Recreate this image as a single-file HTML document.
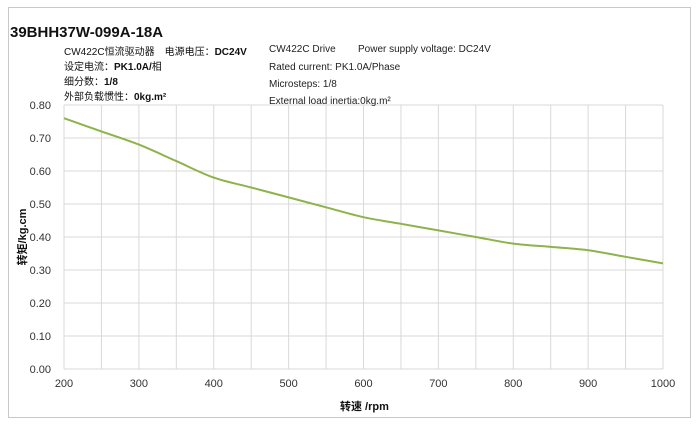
<!DOCTYPE html>
<html><head><meta charset="utf-8"><style>
body{margin:0;background:#fff;width:700px;height:426px;overflow:hidden;font-family:"Liberation Sans","Noto Sans CJK SC",sans-serif}
svg{position:absolute;left:0;top:0}
</style></head><body>
<svg width="700" height="426">
<rect x="8.5" y="7.5" width="682" height="410" fill="#fff" stroke="#c8c8c8"/>
<g id="grid"></g>
<path id="line" fill="none" stroke="#8db34a" stroke-width="2"/>
<g id="labels" font-size="11" fill="#333"></g>
<text x="10" y="37" font-size="15" font-weight="bold" fill="#111">39BHH37W-099A-18A</text>
<g font-size="10" fill="#111" font-family="'Liberation Sans','Noto Sans CJK SC',sans-serif">
<text x="64" y="55">CW422C恒流驱动器　电源电压：<tspan font-weight="bold">DC24V</tspan></text>
<text x="64" y="70">设定电流：<tspan font-weight="bold">PK1.0A/</tspan>相</text>
<text x="64" y="85">细分数：<tspan font-weight="bold">1/8</tspan></text>
<text x="64" y="100">外部负载惯性：<tspan font-weight="bold">0kg.m²</tspan></text>
</g>
<g font-size="10" fill="#222">
<text x="269" y="52">CW422C Drive</text><text x="358" y="52">Power supply voltage: DC24V</text>
<text x="269" y="70">Rated current: PK1.0A/Phase</text>
<text x="269" y="87">Microsteps: 1/8</text>
<text x="269" y="104">External load inertia:0kg.m²</text>
</g>
<text x="340" y="410" font-size="11" font-weight="bold" fill="#111">转速 /rpm</text>
<text transform="translate(26,237) rotate(-90)" text-anchor="middle" font-size="11" font-weight="bold" fill="#111">转矩/kg.cm</text>
</svg>
<script>
const speeds=[200,250,300,350,400,450,500,550,600,650,700,750,800,850,900,950,1000];
const torque=[0.76,0.72,0.68,0.63,0.58,0.55,0.52,0.49,0.46,0.44,0.42,0.40,0.38,0.37,0.36,0.34,0.32];
const xTicks=[200,300,400,500,600,700,800,900,1000];
const yTicks=[0,0.1,0.2,0.3,0.4,0.5,0.6,0.7,0.8];
const X0=64,X1=663,Y0=369,Y1=105;
const sx=v=>X0+(v-200)/800*(X1-X0);
const sy=v=>Y0-v/0.8*(Y0-Y1);
const NS='http://www.w3.org/2000/svg';
const g=document.getElementById('grid'),L=document.getElementById('labels');
function mk(tag,attrs,parent){const e=document.createElementNS(NS,tag);for(const k in attrs)e.setAttribute(k,attrs[k]);parent.appendChild(e);return e;}
for(let v=200;v<=1000;v+=50){const e=mk('line',{x1:sx(v),x2:sx(v),y1:Y1,y2:Y0,stroke:'#d9d9d9'},g);

}
yTicks.forEach(t=>{const e=mk('line',{x1:X0,x2:X1,y1:sy(t),y2:sy(t),stroke:'#d9d9d9'},g);


const tx=mk('text',{x:X0-13,y:sy(t)+4,'text-anchor':'end'},L);tx.textContent=t.toFixed(2);

});
xTicks.forEach(t=>{const tx=mk('text',{x:sx(t),y:Y0+18,'text-anchor':'middle'},L);tx.textContent=t;

});
const P=speeds.map((s,i)=>[sx(s),sy(torque[i])]);
let d='M'+P[0][0]+','+P[0][1];
for(let i=0;i<P.length-1;i++){const p0=P[i-1]||P[i],p1=P[i],p2=P[i+1],p3=P[i+2]||p2;
d+=` C${p1[0]+(p2[0]-p0[0])/6},${p1[1]+(p2[1]-p0[1])/6} ${p2[0]-(p3[0]-p1[0])/6},${p2[1]-(p3[1]-p1[1])/6} ${p2[0]},${p2[1]}`;}
document.getElementById('line').setAttribute('d',d);
</script>
</body></html>
